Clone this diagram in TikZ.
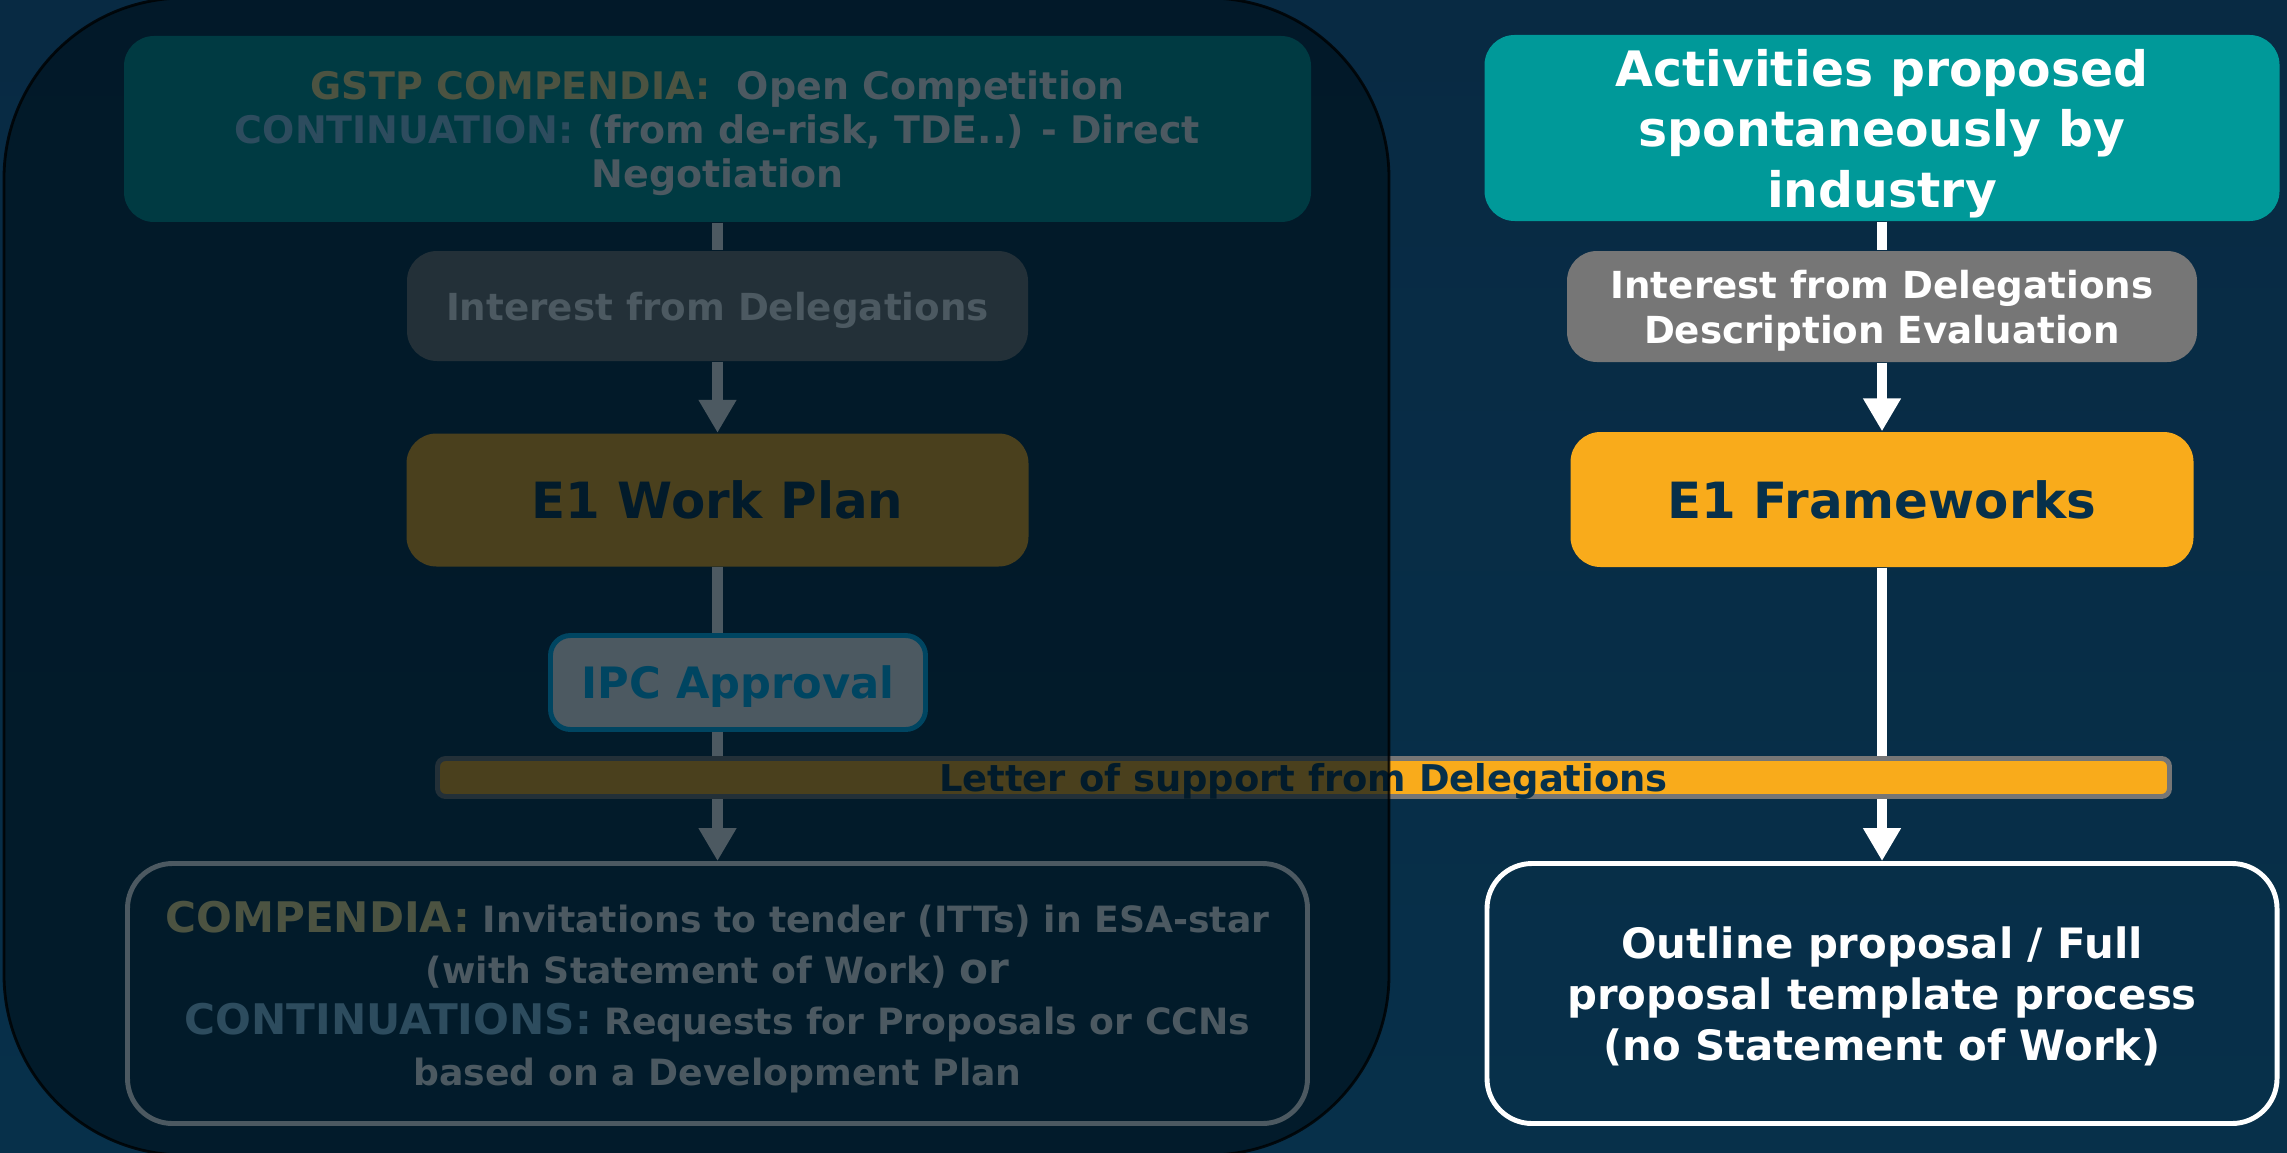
\documentclass[tikz,border=0pt]{standalone}
\usepackage{fontspec}
\setmainfont{DejaVu Sans}
\usetikzlibrary{arrows.meta,positioning,calc}

\definecolor{navy}{HTML}{07304A}
\definecolor{navytop}{HTML}{082A43}
\definecolor{esateal}{HTML}{009999}
\definecolor{esagrey}{HTML}{767676}
\definecolor{esaorange}{HTML}{F9AB1B}
\definecolor{esablue}{RGB}{0,190,255}
\definecolor{labelgold}{HTML}{FFEB96}
\definecolor{labelblue}{HTML}{99D3F7}
\definecolor{dimshade}{RGB}{0,19,30}

\begin{document}
\begin{tikzpicture}[
    box/.style={rounded corners=0.3cm, align=center, inner sep=0pt, text depth=0pt},
    outline/.style={box, draw=white, line width=1.4pt, rounded corners=0.45cm, minimum width=11.8cm, minimum height=2.6cm, text=white},
    arr/.style={-{Triangle[length=9.4pt,width=10.2pt]}, line width=3.1pt, white},
    link/.style={line width=3.1pt, white}
]
\useasboundingbox (0,0) rectangle (22.87,-11.52);
\fill[top color=navytop, bottom color=navy] (0,0) rectangle (22.87,-11.52);

% left column
\node[box, fill=esateal, text=white, minimum width=11.87cm, minimum height=1.86cm, font=\bfseries\fontsize{10.8}{12.6}\selectfont] (gstp) at (7.175,-1.29) {{\color{labelgold}GSTP COMPENDIA:}\ \ Open Competition\\{\color{labelblue}CONTINUATION:} (from de-risk, TDE..) - Direct\\Negotiation};
\node[box, fill=esagrey, text=white, minimum width=6.21cm, minimum height=1.1cm, font=\bfseries\fontsize{10.6}{12.8}\selectfont] (intL) at (7.175,-3.06) {Interest from Delegations};
\node[box, fill=esaorange, text=navy, minimum width=6.22cm, minimum height=1.33cm, font=\bfseries\fontsize{14.2}{17}\selectfont] (plan) at (7.175,-5.0) {E1 Work Plan};
\node[box, fill=white, draw=esablue, line width=1.4pt, rounded corners=0.2cm, text=esablue, minimum width=3.75cm, minimum height=0.94cm, font=\bfseries\fontsize{12.3}{15}\selectfont] (ipc) at (7.38,-6.825) {IPC Approval};
\node[outline, font=\bfseries\fontsize{10.3}{14.5}\selectfont] (bl) at (7.175,-9.935) {{\fontsize{12}{14.5}\selectfont\color{labelgold}COMPENDIA:} Invitations to tender (ITTs) in ESA-star\\(with Statement of Work) {\fontsize{12}{14.5}\selectfont or}\\{\fontsize{12}{14.5}\selectfont\color{labelblue}CONTINUATIONS:} Requests for Proposals or CCNs\\based on a Development Plan};

% right column
\node[box, fill=esateal, text=white, minimum width=7.95cm, minimum height=1.86cm, font=\bfseries\fontsize{13.9}{17.2}\selectfont] (act) at (18.82,-1.28) {Activities proposed\\spontaneously by\\industry};
\node[box, fill=esagrey, text=white, minimum width=6.3cm, minimum height=1.11cm, font=\bfseries\fontsize{10.6}{12.8}\selectfont] (intR) at (18.82,-3.065) {Interest from Delegations\\Description Evaluation};
\node[box, fill=esaorange, text=navy, minimum width=6.23cm, minimum height=1.35cm, font=\bfseries\fontsize{14.2}{17}\selectfont] (frame) at (18.82,-4.995) {E1 Frameworks};
\node[outline, minimum width=7.9cm, font=\bfseries\fontsize{11.9}{14.5}\selectfont] (br) at (18.82,-9.935) {Outline proposal / Full\\proposal template process\\(no Statement of Work)};

\draw[link] (gstp) -- (intL);
\draw[arr] (intL) -- (plan);
\draw[link] (plan.south) -- (plan.south |- ipc.north);
\draw[arr] (ipc.south -| bl.north) -- (bl.north);
\draw[link] (act) -- (intR);
\draw[arr] (intR) -- (frame);
\draw[arr] (frame) -- (br);

\node[box, fill=esaorange, draw=esagrey, line width=1.4pt, rounded corners=0.08cm, text=navy, minimum width=17.32cm, minimum height=0.38cm, font=\bfseries\fontsize{10.5}{11}\selectfont] (bar) at (13.035,-7.775) {Letter of support from Delegations};

% dimmed left half
\fill[dimshade, fill opacity=0.7, rounded corners=1.8cm] (0.04,0.02) rectangle (13.89,-11.55);
\draw[black, opacity=0.8, line width=0.8pt, rounded corners=1.8cm] (0.04,0.02) rectangle (13.89,-11.55);
\end{tikzpicture}
\end{document}
